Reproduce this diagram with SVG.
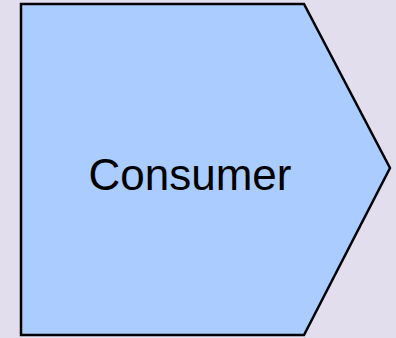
<svg xmlns="http://www.w3.org/2000/svg" width="396" height="338" viewBox="0 0 396 338">
<style>
.node{fill:#AACCFF;stroke:#000;stroke-width:2.5}
.label{font-family:"Liberation Sans",Arial,sans-serif;font-size:44px;fill:#000;text-anchor:middle}
</style>
<rect width="396" height="338" fill="#E3DEEE"/>
<g id="connectors"/>
<g id="consumer">
<polygon class="node" points="21,4 304,4 390,168 304,335 21,335"/>
<text class="label" x="190" y="190">Consumer</text>
</g>
</svg>
